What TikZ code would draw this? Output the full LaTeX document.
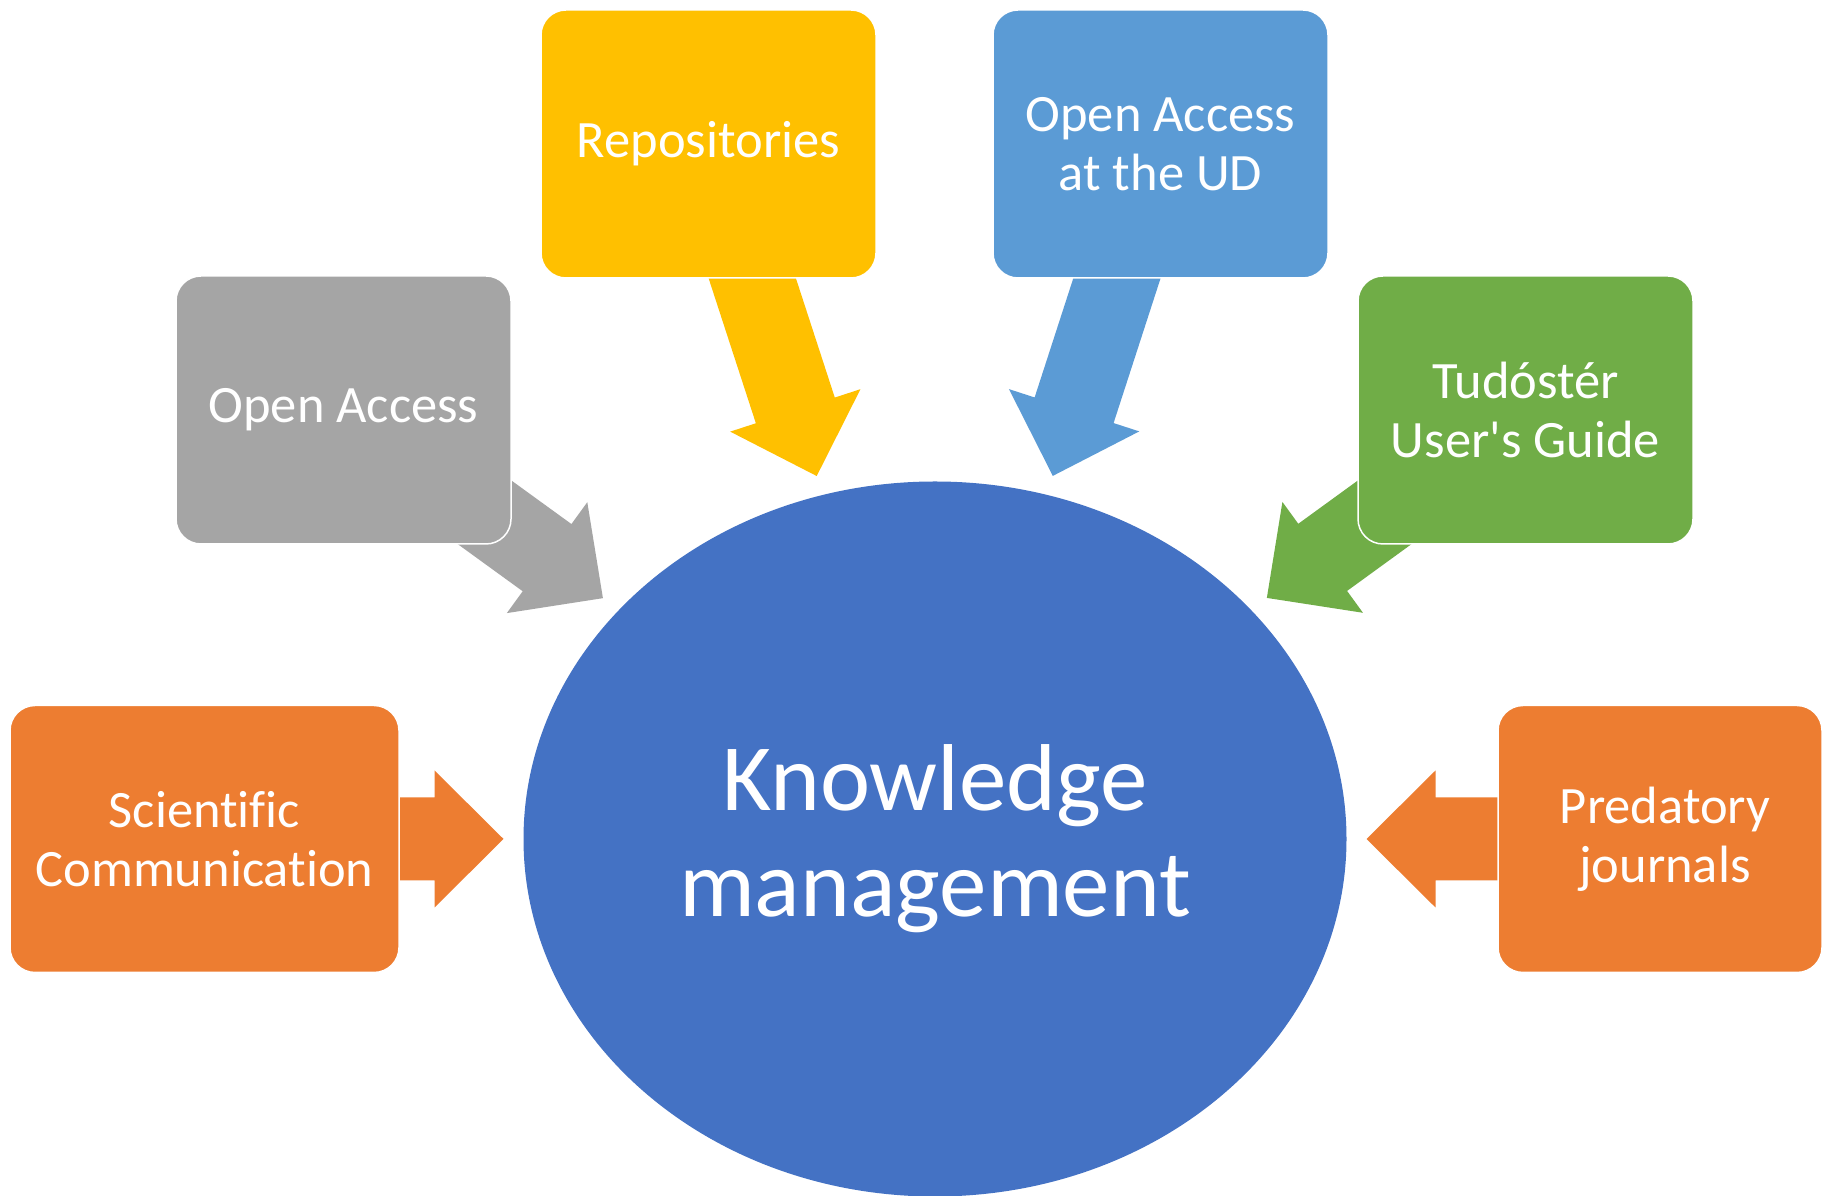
\documentclass[tikz,border=0pt]{standalone}
\usepackage{fontspec}
\setmainfont{Carlito}[Ligatures=NoCommon]
\usetikzlibrary{shapes.geometric,calc,backgrounds}

\definecolor{kmblue}{HTML}{4472C4}
\definecolor{boxorange}{HTML}{ED7D31}
\definecolor{boxgray}{HTML}{A5A5A5}
\definecolor{boxyellow}{HTML}{FFC000}
\definecolor{boxblue}{HTML}{5B9BD5}
\definecolor{boxgreen}{HTML}{70AD47}

\tikzset{
  topic/.style={rectangle, rounded corners=25pt, draw=white, line width=1.5pt,
    text=white, align=center, inner sep=0pt, outer sep=0pt,
    minimum width=335pt, minimum height=268pt,
    font=\fontsize{52.5}{59}\selectfont},
  bigarrow/.pic={
    \path[pic actions] (0,0) -- (-69,68.5) -- (-69,41.5) -- (-240,41.5)
      -- (-240,-41.5) -- (-69,-41.5) -- (-69,-68.5) -- cycle;
  }
}

\begin{document}
\begin{tikzpicture}[x=1pt,y=1pt]
            \useasboundingbox (0,0) rectangle (1826,1196);

            % Centre
            \node[ellipse, fill=kmblue, minimum width=823pt, minimum height=715pt,
              inner sep=0pt, outer sep=0pt, text=white, align=center,
              font=\fontsize{95}{106}\selectfont] (km) at (935,357) {Knowledge\\management};

            % Topics
            \node[topic, fill=boxyellow] (repo) at (708.5,1052) {Repositories};
            \node[topic, fill=boxblue] (oaud) at (1160.5,1052) {Open Access\\at the UD};
            \node[topic, fill=boxgray] (oa) at (343.5,786) {Open Access};
            \node[topic, fill=boxgreen] (tud) at (1525.5,786) {Tudóstér\\User\textquotesingle s Guide};
            \node[topic, fill=boxorange, minimum width=389pt, minimum height=267pt] (sci) at (204.5,357) {Scientific\\Communication};
            \node[topic, fill=boxorange, minimum width=324pt, minimum height=267pt] (pred) at (1660,357) {\hspace*{10pt}Predatory\\\hspace*{10pt}journals};

            % Arrows
            \begin{scope}[on background layer]
            \fill[white] (0,0) rectangle (1826,1196);
            \foreach \b/\c in {sci/boxorange, oa/boxgray, repo/boxyellow, oaud/boxblue, tud/boxgreen, pred/boxorange}{
              \path (\b.center) -- (km) coordinate[pos=1] (\b-b);
              \path (\b.center) -- ($(\b-b)!20pt!(\b.center)$)
                pic[pos=1, sloped, allow upside down, fill=\c] {bigarrow};
            }
            \end{scope}
\end{tikzpicture}
\end{document}
